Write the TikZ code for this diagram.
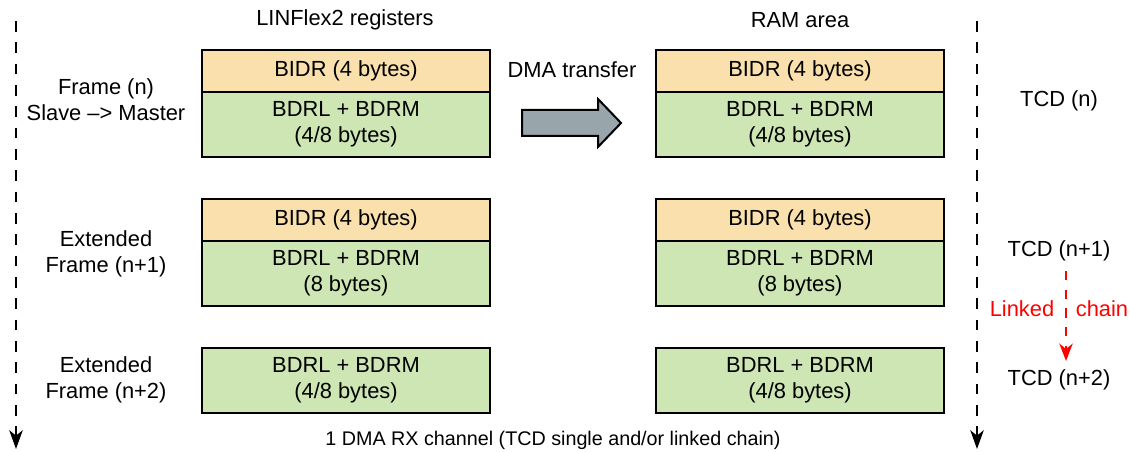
\documentclass[tikz,border=0pt]{standalone}
\usepackage{fontspec}
\setmainfont{Liberation Sans}
\usetikzlibrary{arrows.meta}
\definecolor{bidr}{HTML}{F9E0AC}
\definecolor{bdr}{HTML}{CDE6B4}
\definecolor{arrowgray}{HTML}{98A6AC}
\tikzset{
  reg/.style={draw=black, line width=1.5pt, minimum width=216pt, inner sep=0pt, align=center, font=\fontsize{16.4}{19.5}\selectfont},
  bidrbox/.style={reg, fill=bidr, minimum height=31.5pt},
  bdrbox/.style={reg, fill=bdr, minimum height=48.5pt},
  lbl/.style={align=center, font=\fontsize{16.4}{19.5}\selectfont, inner sep=0pt},
  redlbl/.style={lbl, text=red},
  timeline/.style={draw=black, line width=2pt, dash pattern=on 8pt off 8pt, -{Stealth[length=14pt,width=10pt,inset=4pt]}},
  chainline/.style={draw=red, line width=1.8pt, dash pattern=on 7pt off 7pt, -{Stealth[length=13pt,width=10pt,inset=4pt]}}
}
\begin{document}
\begin{tikzpicture}[x=0.75pt,y=-0.75pt]
\useasboundingbox (0,0) rectangle (1130,452);
% headings
\node[lbl] (hreg) at (345,20) {LINFlex2 registers};
\node[lbl] (hram) at (800,20) {RAM area};
\node[lbl] (hdma) at (572,70) {DMA transfer};
% left register boxes
\node[bidrbox, anchor=north west] (lb1) at (201,49) {BIDR (4 bytes)};
\node[bdrbox, anchor=north west] (ld1) at (201,91) {BDRL + BDRM\\(4/8 bytes)};
\node[bidrbox, anchor=north west] (lb2) at (201,198) {BIDR (4 bytes)};
\node[bdrbox, anchor=north west] (ld2) at (201,240) {BDRL + BDRM\\(8 bytes)};
\node[bdrbox, anchor=north west] (ld3) at (201,347) {BDRL + BDRM\\(4/8 bytes)};
% right RAM boxes
\node[bidrbox, anchor=north west] (rb1) at (655,49) {BIDR (4 bytes)};
\node[bdrbox, anchor=north west] (rd1) at (655,91) {BDRL + BDRM\\(4/8 bytes)};
\node[bidrbox, anchor=north west] (rb2) at (655,198) {BIDR (4 bytes)};
\node[bdrbox, anchor=north west] (rd2) at (655,240) {BDRL + BDRM\\(8 bytes)};
\node[bdrbox, anchor=north west] (rd3) at (655,347) {BDRL + BDRM\\(4/8 bytes)};
% frame labels
\node[lbl] (f1) at (106,100) {Frame (n)\\Slave –> Master};
\node[lbl] (f2) at (106,254) {Extended\\Frame (n+1)};
\node[lbl] (f3) at (106,380) {Extended\\Frame (n+2)};
% TCD labels
\node[lbl] (t1) at (1059,101) {TCD (n)};
\node[lbl] (t2) at (1059,251) {TCD (n+1)};
\node[lbl] (t3) at (1059,380) {TCD (n+2)};
\node[redlbl] (lk) at (1022,309) {Linked};
\node[redlbl] (ch) at (1102,309) {chain};
% bottom caption
\node[lbl, font=\fontsize{14.8}{17}\selectfont] (cap) at (553,440) {1 DMA RX channel (TCD single and/or linked chain)};
% DMA transfer arrow
\draw[line width=1.5pt, fill=arrowgray, line join=miter]
  (522,110) -- (598,110) -- (598,99) -- (621,123) -- (598,147) -- (598,136) -- (522,136) -- cycle;
% timelines
\coordinate (ltop) at (16,21);
\coordinate (lbot) at (16,449);
\coordinate (rtop) at (977,21);
\coordinate (rbot) at (977,449);
\draw[timeline] (ltop) -- (lbot);
\draw[timeline] (rtop) -- (rbot);
% linked chain arrow
\coordinate (cs) at (1066,271);
\coordinate (ce) at (1066,361);
\draw[chainline] (cs) -- (ce);
\end{tikzpicture}
\end{document}
